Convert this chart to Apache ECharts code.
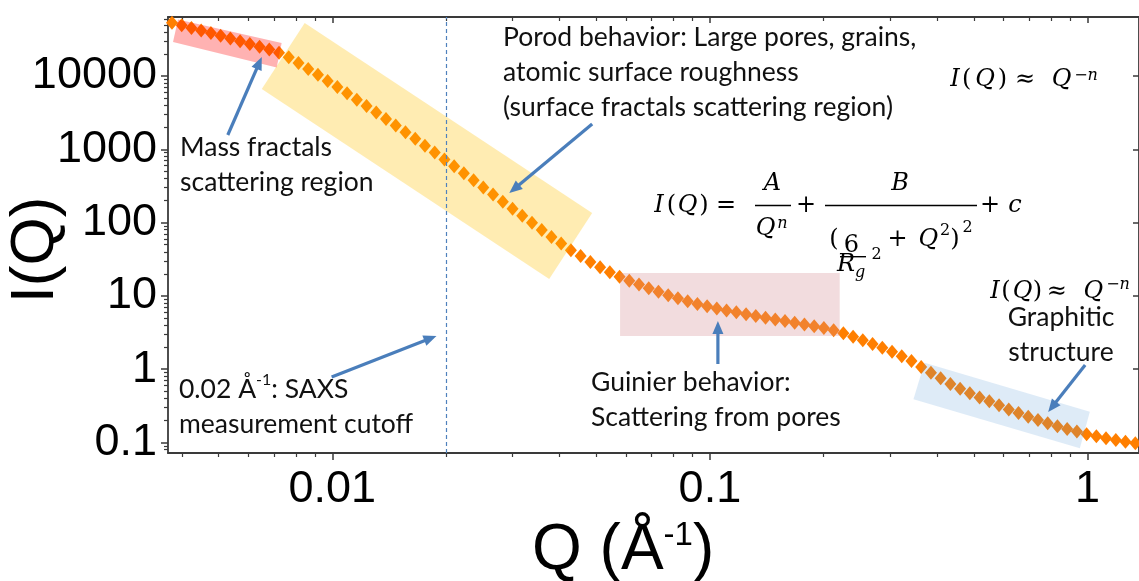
<!DOCTYPE html>
<html>
<head>
<meta charset="utf-8">
<title>SAXS scattering regimes</title>
<script src="https://cdn.jsdelivr.net/npm/echarts@6/dist/echarts.min.js"></script>
<style>
  html, body { margin: 0; padding: 0; background: #ffffff; }
  #chart { width: 1139px; height: 581px; }
</style>
</head>
<body>
<div id="chart"></div>
<script>
// Scattering vector Q (1/Å) and scattered intensity I(Q)
const qValues = [
  0.003760, 0.003990, 0.004234, 0.004493, 0.004768, 0.005059, 0.005369, 0.005697, 0.006045, 0.006415,
  0.006807, 0.007223, 0.007665, 0.008134, 0.008631, 0.009159, 0.009718, 0.01031, 0.01094, 0.01161,
  0.01232, 0.01307, 0.01387, 0.01472, 0.01562, 0.01658, 0.01759, 0.01867, 0.01981, 0.02102,
  0.02230, 0.02367, 0.02511, 0.02665, 0.02828, 0.03001, 0.03184, 0.03379, 0.03586, 0.03805,
  0.04037, 0.04284, 0.04546, 0.04824, 0.05119, 0.05432, 0.05764, 0.06116, 0.06490, 0.06887,
  0.07308, 0.07755, 0.08229, 0.08733, 0.09267, 0.09833, 0.1043, 0.1107, 0.1175, 0.1247,
  0.1323, 0.1404, 0.1490, 0.1581, 0.1677, 0.1780, 0.1889, 0.2004, 0.2127, 0.2257,
  0.2395, 0.2541, 0.2697, 0.2862, 0.3037, 0.3222, 0.3419, 0.3628, 0.3850, 0.4085,
  0.4335, 0.4600, 0.4881, 0.5180, 0.5497, 0.5833, 0.6189, 0.6568, 0.6969, 0.7396,
  0.7848, 0.8328, 0.8837, 0.9377, 0.9951, 1.056, 1.120, 1.189, 1.261, 1.339
];
const intensity = [
  53300, 49200, 45300, 41800, 38500, 35400, 32500, 29800, 27300, 25000,
  22900, 20800, 18000, 15000, 12500, 10400, 8570, 7080, 5810, 4760,
  3900, 3180, 2590, 2110, 1710, 1390, 1120, 902, 728, 586,
  471, 377, 301, 242, 193, 155, 124, 99.4, 79.5, 63.6,
  51.7, 42.0, 34.9, 29.0, 24.6, 21.0, 18.3, 16.1, 14.3, 12.7,
  11.4, 10.2, 9.27, 8.47, 7.78, 7.21, 6.73, 6.32, 5.96, 5.63,
  5.32, 5.04, 4.78, 4.53, 4.31, 4.08, 3.86, 3.65, 3.40, 3.09,
  2.78, 2.49, 2.21, 1.96, 1.73, 1.50, 1.29, 1.075, 0.896, 0.751,
  0.630, 0.542, 0.469, 0.412, 0.364, 0.321, 0.282, 0.252, 0.225, 0.202,
  0.183, 0.167, 0.153, 0.141, 0.130, 0.1215, 0.1145, 0.108, 0.1025, 0.0975
];

// Axis ticks
const xMajorTicks = [0.01, 0.1, 1];
const xMinorTicks = [
  0.004, 0.005, 0.006, 0.007, 0.008, 0.009,
  0.02, 0.03, 0.04, 0.05, 0.06, 0.07, 0.08, 0.09,
  0.2, 0.3, 0.4, 0.5, 0.6, 0.7, 0.8, 0.9
];
const yMajorTicks = [0.1, 1, 10, 100, 1000, 10000];
const yMinorTicks = [
  0.08, 0.09,
  0.2, 0.3, 0.4, 0.5, 0.6, 0.7, 0.8, 0.9,
  2, 3, 4, 5, 6, 7, 8, 9,
  20, 30, 40, 50, 60, 70, 80, 90,
  200, 300, 400, 500, 600, 700, 800, 900,
  2000, 3000, 4000, 5000, 6000, 7000, 8000, 9000,
  20000, 30000, 40000, 50000, 60000
];

// SAXS measurement cutoff
const cutoffQ = 0.02;

// Shaded regimes, corners given as [Q, I]
const massFractalBox = [[0.003901, 58980], [0.007340, 28190], [0.007121, 13060], [0.003784, 29090]];
const porodBox = [[0.008448, 52850], [0.04877, 135.2], [0.03753, 17.0], [0.006502, 6647]];
const guinierBox = [[0.05782, 20.52], [0.2207, 20.52], [0.2207, 2.830], [0.05782, 2.830]];
const graphiticBox = [[0.3702, 1.2266], [1.0147, 0.2632], [0.9548, 0.08333], [0.3461, 0.3885]];

// Callout arrows, [tail, head] as [Q, I]
const massArrow = [[0.005285, 1567], [0.006502, 18160]];
const porodArrow = [[0.04877, 2214], [0.02942, 253.4]];
const cutoffArrow = [[0.009957, 0.7826], [0.01887, 2.838]];
const guinierArrow = [[0.1050, 1.1775], [0.1050, 4.546]];
const graphiticArrow = [[0.9861, 1.141], [0.7871, 0.2607]];

const xMin = 0.00367, xMax = 1.3695;
const yMin = 0.0719, yMax = 63810;

const axisColor = '#3a3a3a';
const markerColor = '#ff7f00';
const arrowColor = '#4a7ebb';
const textFont = 'Lato';
const mathFont = 'DejaVu Serif';

const boxes = [
  { corners: massFractalBox, fill: 'rgba(255,0,0,0.30)' },
  { corners: porodBox, fill: 'rgba(255,192,0,0.30)' },
  { corners: guinierBox, fill: 'rgba(212,138,145,0.30)' },
  { corners: graphiticBox, fill: 'rgba(91,155,213,0.20)' }
];
const arrows = [massArrow, porodArrow, cutoffArrow, guinierArrow, graphiticArrow];

function logX(extra) {
  return Object.assign({
    type: 'log', logBase: 10, min: xMin, max: xMax, gridIndex: 0,
    splitLine: { show: false }, axisLabel: { show: false },
    axisLine: { show: false, onZero: false }, axisTick: { show: false },
    minorTick: { show: false }
  }, extra);
}
function logY(extra) {
  return Object.assign({
    type: 'log', logBase: 10, min: yMin, max: yMax, gridIndex: 0,
    splitLine: { show: false }, axisLabel: { show: false },
    axisLine: { show: false, onZero: false }, axisTick: { show: false },
    minorTick: { show: false }
  }, extra);
}
const spine = { show: true, onZero: false, lineStyle: { color: axisColor, width: 1.8 } };
const majorTickStyle = { color: axisColor, width: 1.5 };
const minorTickStyle = { color: axisColor, width: 1.2 };
const tickLabel = {
  show: true, formatter: v => String(v),
  fontFamily: 'Liberation Sans', fontSize: 45, color: '#000'
};

// Text annotations
function noteBlock(x, top, lines, align) {
  return {
    type: 'text', x: x, y: top, z: 100, silent: true,
    style: {
      text: lines.join('\n'),
      align: align || 'left', verticalAlign: 'top',
      fontFamily: textFont, fontSize: 26.5, lineHeight: 35, fill: '#111',
      rich: {
        n: { fontFamily: textFont, fontSize: 26.5, lineHeight: 35, fill: '#111' },
        s: { fontFamily: textFont, fontSize: 16, lineHeight: 22, verticalAlign: 'top', fill: '#111' }
      }
    }
  };
}

// Formula glyph at a centre x and em-middle y
function glyph(t, x, y, size, italic) {
  return {
    type: 'text', x: x, y: y, z: 100, silent: true,
    style: {
      text: t, align: 'center', verticalAlign: 'middle',
      fontFamily: mathFont, fontSize: size, fontStyle: italic ? 'italic' : 'normal', fill: '#000'
    }
  };
}
function bar(x1, x2, y) {
  return {
    type: 'line', z: 100, silent: true,
    shape: { x1: x1, y1: y, x2: x2, y2: y },
    style: { stroke: '#000', lineWidth: 1.4 }
  };
}

const M = 24;   // main math size
const S = 16;   // script size
const formulaGeneral = [
  glyph('I', 659, 205.7, M, true),
  glyph('(', 671.5, 205.7, M, false),
  glyph('Q', 687.5, 205.7, M, true),
  glyph(')', 704, 205.7, M, false),
  glyph('=', 726, 205.7, M, false),
  glyph('A', 772.5, 183.4, M, true),
  bar(755, 791, 205.5),
  glyph('Q', 765.5, 228.7, M, true),
  glyph('n', 782.5, 223.5, S, true),
  glyph('+', 806, 205.7, M, false),
  glyph('B', 900, 183.4, M, true),
  bar(825, 977, 205.5),
  glyph('(', 834, 239.7, M, false),
  glyph('6', 851.5, 245.7, M, false),
  bar(840, 866, 256.7),
  glyph('R', 846, 265, M, true),
  glyph('g', 860, 272.5, S, true),
  glyph('2', 876.5, 254.5, S, false),
  glyph('+', 897.5, 239.7, M, false),
  glyph('Q', 928.3, 239.7, M, true),
  glyph('2', 945, 231.2, S, false),
  glyph(')', 955, 239.7, M, false),
  glyph('2', 967.5, 227.8, S, false),
  glyph('+', 990, 205.7, M, false),
  glyph('c', 1015, 205.7, M, true)
];
const formulaPorod = [
  glyph('I', 955, 80.2, M, true),
  glyph('(', 966.7, 80.2, M, false),
  glyph('Q', 985, 80.2, M, true),
  glyph(')', 1002.5, 80.2, M, false),
  glyph('\u2248', 1025, 80.2, M, false),
  glyph('Q', 1061.7, 80.2, M, true),
  glyph('\u2212n', 1086, 75.5, S, true)
];
const formulaGraphitic = [
  glyph('I', 995, 291.7, M, true),
  glyph('(', 1006, 291.7, M, false),
  glyph('Q', 1022.5, 291.7, M, true),
  glyph(')', 1037.5, 291.7, M, false),
  glyph('\u2248', 1056.7, 291.7, M, false),
  glyph('Q', 1093.3, 291.7, M, true),
  glyph('\u2212n', 1118, 284.5, S, true)
];

const chart = echarts.init(document.getElementById('chart'), null, { renderer: 'canvas' });

chart.setOption({
  animation: false,
  backgroundColor: '#ffffff',
  grid: { left: 168, top: 17, right: -2, bottom: 128, containLabel: false },
  xAxis: [
    logX({
      position: 'bottom', axisLine: spine,
      axisTick: { show: true, inside: false, length: 7, customValues: xMajorTicks, lineStyle: majorTickStyle },
      axisLabel: Object.assign({ customValues: xMajorTicks, margin: 14 }, tickLabel)
    }),
    logX({
      position: 'bottom',
      axisTick: { show: true, inside: false, length: 4, customValues: xMinorTicks, lineStyle: minorTickStyle }
    }),
    logX({
      position: 'top', axisLine: spine,
      axisTick: { show: true, inside: true, length: 6, customValues: xMajorTicks, lineStyle: majorTickStyle }
    }),
    logX({
      position: 'top',
      axisTick: { show: true, inside: true, length: 4, customValues: xMinorTicks, lineStyle: minorTickStyle }
    })
  ],
  yAxis: [
    logY({
      position: 'left', axisLine: spine,
      axisTick: { show: true, inside: false, length: 7, customValues: yMajorTicks, lineStyle: majorTickStyle },
      axisLabel: Object.assign({ customValues: yMajorTicks, margin: 11 }, tickLabel)
    }),
    logY({
      position: 'left',
      axisTick: { show: true, inside: false, length: 4, customValues: yMinorTicks, lineStyle: minorTickStyle }
    }),
    logY({
      position: 'right', axisLine: spine,
      axisTick: { show: true, inside: true, length: 6, customValues: yMajorTicks, lineStyle: majorTickStyle }
    })
  ],
  series: [
    {
      name: 'I(Q)',
      type: 'scatter',
      xAxisIndex: 0, yAxisIndex: 0,
      data: qValues.map((q, i) => [q, intensity[i]]),
      symbol: 'diamond',
      symbolSize: [12, 14],
      itemStyle: { color: markerColor, opacity: 1 },
      silent: true,
      z: 2,
      markLine: {
        silent: true,
        symbol: 'none',
        label: { show: false },
        lineStyle: { type: [4, 3], color: '#4f81bd', width: 1.2 },
        data: [{ xAxis: cutoffQ }]
      }
    },
    {
      name: 'regimes',
      type: 'custom',
      xAxisIndex: 0, yAxisIndex: 0,
      silent: true,
      z: 3,
      data: boxes.map(b => b.corners[0]),
      renderItem: function (params, api) {
        const b = boxes[params.dataIndex];
        return {
          type: 'polygon',
          shape: { points: b.corners.map(c => api.coord(c)) },
          style: { fill: b.fill, stroke: null }
        };
      }
    },
    {
      name: 'callouts',
      type: 'custom',
      xAxisIndex: 0, yAxisIndex: 0,
      silent: true,
      z: 4,
      data: arrows.map(a => a[0]),
      renderItem: function (params, api) {
        const a = arrows[params.dataIndex];
        const p0 = api.coord(a[0]);
        const p1 = api.coord(a[1]);
        const dx = p1[0] - p0[0], dy = p1[1] - p0[1];
        const len = Math.sqrt(dx * dx + dy * dy);
        const ux = dx / len, uy = dy / len;
        const headLen = 13, headHalf = 5.5;
        const bx = p1[0] - ux * headLen, by = p1[1] - uy * headLen;
        return {
          type: 'group',
          children: [
            {
              type: 'line',
              shape: { x1: p0[0], y1: p0[1], x2: bx + ux * 2, y2: by + uy * 2 },
              style: { stroke: arrowColor, lineWidth: 3.2 }
            },
            {
              type: 'polygon',
              shape: { points: [[p1[0], p1[1]], [bx - uy * headHalf, by + ux * headHalf], [bx + uy * headHalf, by - ux * headHalf]] },
              style: { fill: arrowColor }
            }
          ]
        };
      }
    }
  ],
  graphic: [
    // axis titles
    {
      type: 'text', x: 532, y: 551.5, z: 100, silent: true,
      style: {
        text: '{a|Q (Å}{s|-1}{a|)}', align: 'left', verticalAlign: 'middle',
        rich: {
          a: { fontFamily: 'Liberation Sans', fontSize: 64, lineHeight: 64, fill: '#000' },
          s: { fontFamily: 'Liberation Sans', fontSize: 33, lineHeight: 38, verticalAlign: 'top', fill: '#000' }
        }
      }
    },
    {
      type: 'text', x: 36, y: 250, rotation: Math.PI / 2, z: 100, silent: true,
      style: {
        text: 'I(Q)', align: 'center', verticalAlign: 'middle',
        fontFamily: 'Liberation Sans', fontSize: 62, fill: '#000'
      }
    },
    // regime notes
    noteBlock(180, 129.5, ['Mass fractals', 'scattering region']),
    noteBlock(503, 19.5, ['Porod behavior: Large pores, grains,', 'atomic surface roughness', '(surface fractals scattering region)']),
    noteBlock(179, 371.5, ['{n|0.02 Å}{s|-1}{n|: SAXS}', '{n|measurement cutoff}']),
    noteBlock(591, 364.5, ['Guinier behavior:', 'Scattering from pores']),
    noteBlock(1061, 299.5, ['Graphitic', 'structure'], 'center')
  ].concat(formulaGeneral, formulaPorod, formulaGraphitic)
});
</script>
</body>
</html>
